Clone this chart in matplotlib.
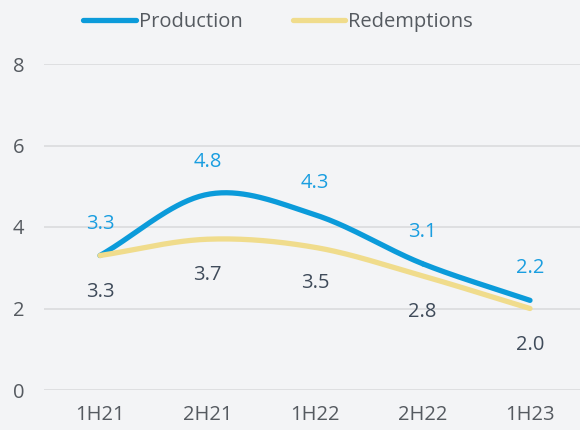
import numpy as np
import matplotlib
matplotlib.use("Agg")
import matplotlib.pyplot as plt
from matplotlib.lines import Line2D

plt.rcParams['font.family'] = ['Open Sans', 'DejaVu Sans']

categories = ["1H21", "2H21", "1H22", "2H22", "1H23"]
production = [3.3, 4.8, 4.3, 3.1, 2.2]
redemptions = [3.3, 3.7, 3.5, 2.8, 2.0]
y_ticks = [0, 2, 4, 6, 8]

BLUE = "#0b9bda"
YELLOW = "#f0dc8c"
LABEL_DARK = "#3f4b5a"
TICK_GREY = "#555a60"
BG = "#f3f4f6"
FS = 14.5


def catmull_rom(xs, ys, n=40):
    # smooth curve through the data points, like the original spline
    xs = np.asarray(xs, float)
    ys = np.asarray(ys, float)
    px = np.concatenate([[2 * xs[0] - xs[1]], xs, [2 * xs[-1] - xs[-2]]])
    py = np.concatenate([[2 * ys[0] - ys[1]], ys, [2 * ys[-1] - ys[-2]]])
    out_x, out_y = [], []
    for i in range(1, len(px) - 2):
        t = np.linspace(0, 1, n)
        for arr, out in ((px, out_x), (py, out_y)):
            p0, p1, p2, p3 = arr[i - 1], arr[i], arr[i + 1], arr[i + 2]
            out.extend(0.5 * ((2 * p1) + (-p0 + p2) * t
                              + (2 * p0 - 5 * p1 + 4 * p2 - p3) * t ** 2
                              + (-p0 + 3 * p1 - 3 * p2 + p3) * t ** 3))
    return np.array(out_x), np.array(out_y)


fig = plt.figure(figsize=(5.8, 4.3), dpi=100, facecolor=BG)
ax = fig.add_axes([44 / 580, 1 - 390 / 430, 536 / 580, (390 - 64) / 430])
ax.set_facecolor(BG)

x = np.arange(len(categories))
ax.set_xlim(-(100 - 44) / 107.5, (580 - 100) / 107.5)
ax.set_ylim(0, 8)

for yv in y_ticks:
    ax.axhline(yv, color="#dcdddf", lw=1.3, zorder=0)

sx, sy = catmull_rom(x, production)
ax.plot(sx, sy, color=BLUE, lw=3.8, solid_capstyle="round", zorder=3)
sx, sy = catmull_rom(x, redemptions)
ax.plot(sx, sy, color=YELLOW, lw=3.8, solid_capstyle="round", zorder=4)

for xi, v in zip(x, production):
    ax.annotate(f"{v:.1f}", (xi, v), xytext=(0, 23), textcoords="offset points",
                ha="center", va="center", color="#1a9ee0", fontsize=FS)
for xi, v in zip(x, redemptions):
    ax.annotate(f"{v:.1f}", (xi, v), xytext=(0, -26), textcoords="offset points",
                ha="center", va="center", color=LABEL_DARK, fontsize=FS)

ax.set_xticks(x)
ax.set_xticklabels(categories)
ax.set_yticks(y_ticks)
ax.tick_params(axis="both", length=0, labelsize=FS, colors=TICK_GREY)
ax.tick_params(axis="y", pad=14)
ax.tick_params(axis="x", pad=11)
for s in ax.spines.values():
    s.set_visible(False)

handles = [
    Line2D([], [], color=BLUE, lw=3.8, solid_capstyle="round"),
    Line2D([], [], color=YELLOW, lw=3.8, solid_capstyle="round"),
]
fig.legend(handles, ["Production", "Redemptions"], loc="center",
           bbox_to_anchor=(278 / 580, 1 - 22 / 430), ncol=2, frameon=False,
           fontsize=FS, handlelength=2.6, handletextpad=0.15,
           columnspacing=2.5, labelcolor=TICK_GREY)

fig.savefig("out.png", dpi=100, facecolor=BG)
